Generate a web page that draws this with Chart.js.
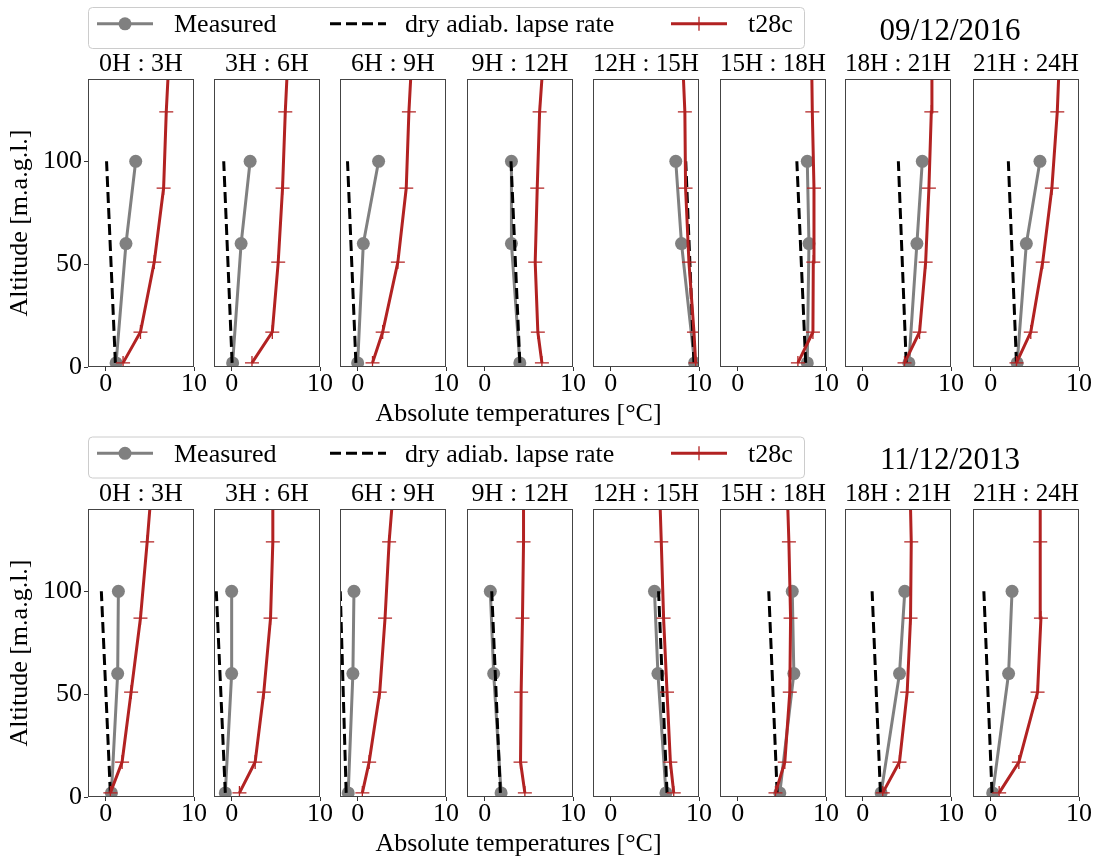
<!DOCTYPE html>
<html><head><meta charset="utf-8">
<script src="https://cdn.jsdelivr.net/npm/chart.js@4.4.1/dist/chart.umd.min.js"></script>
<style>
html,body{margin:0;padding:0;background:#fff;}
#fig{position:relative;width:1094px;height:859px;overflow:hidden;background:#fff;}
#fig canvas{position:absolute;}
#over{position:absolute;left:0;top:0;pointer-events:none;}
</style></head>
<body><div id="fig"></div>
<script>
// ---------- data ----------
const panelTitles = ['0H : 3H','3H : 6H','6H : 9H','9H : 12H','12H : 15H','15H : 18H','18H : 21H','21H : 24H'];
const dates = ['09/12/2016','11/12/2013'];
const seriesNames = ['Measured','dry adiab. lapse rate','t28c'];
const xLabel = 'Absolute temperatures [°C]';
const yLabel = 'Altitude [m.a.g.l.]';
const xTicks = [0, 10];
const yTicks = [0, 50, 100];

const measuredAlt = [2, 60, 100];
const dryAlt = [2, 100];
const t28cAlt = [2, 17, 51, 87, 124, 140];

// 09/12/2016
const measured_2016 = [[1.18,2.3,3.4],[0.11,1.07,2.09],[0.0,0.64,2.37],[3.98,3.03,3.03],[9.5,8.02,7.37],[7.88,8.07,7.88],[5.23,6.14,6.75],[3.0,4.04,5.58]];
const dry_2016 = [[1.1,0.1],[0.05,-0.9],[-0.2,-1.15],[3.98,2.98],[9.43,8.5],[7.7,6.7],[4.93,4.04],[2.92,2.0]];
const t28c_2016 = [[1.97,3.94,5.5,6.56,6.86,7.05],[2.3,4.6,5.27,5.76,6.07,6.25],[1.68,2.83,4.55,5.5,5.8,6.0],[6.48,6.02,5.72,5.95,6.22,6.48],[9.62,9.43,8.86,8.48,8.4,8.24],[6.82,8.52,8.56,8.64,8.45,8.4],[4.74,6.44,7.13,7.5,7.77,7.84],[2.92,4.54,5.89,6.93,7.54,7.69]];
// 11/12/2013
const measured_2013 = [[0.65,1.36,1.44],[-0.72,0.0,0.0],[-1.07,-0.54,-0.42],[1.86,1.02,0.64],[6.26,5.35,4.96],[4.77,6.36,6.18],[2.09,4.17,4.77],[0.23,2.03,2.42]];
const dry_2013 = [[0.53,-0.49],[-0.72,-1.74],[-1.3,-1.97],[1.78,0.8],[6.38,5.42],[4.47,3.52],[2.01,1.07],[0.15,-0.77]];
const t28c_2013 = [[0.53,1.86,2.88,3.94,4.7,5.0],[0.88,2.66,3.64,4.4,4.66,4.66],[0.53,1.3,2.5,3.1,3.56,3.86],[4.55,4.06,4.13,4.28,4.4,4.4],[7.14,6.76,6.38,5.99,5.73,5.61],[4.28,5.34,5.9,5.99,5.8,5.68],[2.27,4.17,5.04,5.42,5.5,5.42],[0.96,3.19,5.31,5.69,5.61,5.61]];

const measuredRows = [measured_2016, measured_2013];
const dryRows = [dry_2016, dry_2013];
const t28cRows = [t28c_2016, t28c_2013];

// ---------- style / layout ----------
const FONT = "'Liberation Serif','Times New Roman',serif";
const GRAY = '#808080', RED = '#B22222';
const boxLeft = [88, 214, 340, 467, 593, 720, 845, 973];
const boxW = 106, boxH = 288;
const rowBoxTop = [79, 509];
const legendTop = [7.5, 437];

const fig = document.getElementById('fig');

const framePlugin = {
  id: 'frame',
  afterDatasetsDraw(chart) {
    const {ctx, chartArea: a} = chart;
    ctx.save();
    ctx.strokeStyle = '#444';
    ctx.lineWidth = 1;
    ctx.strokeRect(a.left + 0.5, a.top + 0.5, a.right - a.left - 1, a.bottom - a.top - 1);
    ctx.restore();
  }
};

function pts(xs, alts) { return alts.map((a, k) => ({x: xs[k], y: a})); }

function makePanel(row, i) {
  const first = i === 0;
  const padLeft = first ? 0 : 30;
  const yW = first ? 88 : 0;
  const W = padLeft + yW + boxW + 20;
  const H = 26 + 2 + boxH + 45;
  const cv = document.createElement('canvas');
  cv.width = W; cv.height = H;
  cv.style.width = W + 'px'; cv.style.height = H + 'px';
  cv.style.left = (boxLeft[i] - padLeft - yW) + 'px';
  cv.style.top = (rowBoxTop[row] - 28) + 'px';
  fig.appendChild(cv);

  const tickFont = {family: FONT, size: 26, lineHeight: 1};
  new Chart(cv.getContext('2d'), {
    type: 'scatter',
    data: {
      datasets: [
        {label: seriesNames[2], data: pts(t28cRows[row][i], t28cAlt), showLine: true,
         borderColor: RED, backgroundColor: RED, borderWidth: 3, pointStyle: 'cross',
         pointRadius: t28cAlt.map((a, k) => k < t28cAlt.length - 1 ? 7 : 0),
         pointBorderColor: RED, pointBorderWidth: 1.3, order: 1, clip: 0, tension: 0},
        {label: seriesNames[1], data: pts(dryRows[row][i], dryAlt), showLine: true,
         borderColor: '#000', borderWidth: 3, borderDash: [11, 5], pointRadius: 0,
         order: 2, clip: 0, tension: 0},
        {label: seriesNames[0], data: pts(measuredRows[row][i], measuredAlt), showLine: true,
         borderColor: GRAY, backgroundColor: GRAY, borderWidth: 3, pointRadius: 6.5,
         pointBackgroundColor: GRAY, pointBorderColor: GRAY, pointBorderWidth: 0,
         order: 3, clip: 0, tension: 0}
      ]
    },
    options: {
      responsive: false, animation: false, events: [],
      layout: {padding: {left: padLeft, right: 20, top: 0, bottom: 0}},
      plugins: {
        legend: {display: false}, tooltip: {enabled: false},
        title: {display: true, text: panelTitles[i], fullSize: false, color: '#000',
                font: {family: FONT, size: 26, weight: 'normal', lineHeight: 1},
                padding: {top: 0, bottom: 2}}
      },
      scales: {
        x: {type: 'linear', min: -2, max: 10,
            afterBuildTicks: s => { s.ticks = xTicks.map(v => ({value: v})); },
            afterFit: s => { s.height = 45; },
            ticks: {font: tickFont, color: '#000', padding: 0, autoSkip: false, maxRotation: 0,
                    callback: v => String(v)},
            grid: {display: true, drawOnChartArea: false, drawTicks: true, tickLength: 4, color: '#333'},
            border: {display: false}},
        y: {type: 'linear', min: 0, max: 140, display: first,
            afterBuildTicks: s => { s.ticks = yTicks.map(v => ({value: v})); },
            afterFit: s => { s.width = yW; },
            ticks: {font: tickFont, color: '#000', padding: 2, autoSkip: false,
                    callback: v => String(v)},
            grid: {display: true, drawOnChartArea: false, drawTicks: true, tickLength: 4, color: '#333'},
            border: {display: false},
            title: {display: true, text: yLabel, color: '#000',
                    font: {family: FONT, size: 26, lineHeight: 1}, padding: {top: 7.3, bottom: 0}}}
      }
    },
    plugins: [framePlugin]
  });
}

for (let r = 0; r < 2; r++) for (let i = 0; i < 8; i++) makePanel(r, i);

// ---------- legends, dates, x labels (text overlay) ----------
let s = `<svg id="over" width="1094" height="859" xmlns="http://www.w3.org/2000/svg" font-family="${FONT.replace(/'/g,'&quot;')}">`;
for (let r = 0; r < 2; r++) {
  const y0 = legendTop[r], ly = y0 + 16.3, tb = y0 + 24.5;
  s += `<rect x="88.5" y="${y0}" width="716" height="41" rx="4" ry="4" fill="#fff" stroke="#cccccc" stroke-width="1"/>`;
  s += `<line x1="97" y1="${ly}" x2="153" y2="${ly}" stroke="${GRAY}" stroke-width="3"/>`;
  s += `<circle cx="125" cy="${ly}" r="6.5" fill="${GRAY}"/>`;
  s += `<text x="174" y="${tb}" font-size="26" fill="#000">${seriesNames[0]}</text>`;
  s += `<line x1="330" y1="${ly}" x2="386" y2="${ly}" stroke="#000" stroke-width="3" stroke-dasharray="11 5"/>`;
  s += `<text x="405" y="${tb}" font-size="26" fill="#000">${seriesNames[1]}</text>`;
  s += `<line x1="671" y1="${ly}" x2="727" y2="${ly}" stroke="${RED}" stroke-width="3"/>`;
  s += `<line x1="699" y1="${ly-7}" x2="699" y2="${ly+7}" stroke="${RED}" stroke-width="1.3"/>`;
  s += `<line x1="692" y1="${ly}" x2="706" y2="${ly}" stroke="${RED}" stroke-width="1.3"/>`;
  s += `<text x="748" y="${tb}" font-size="26" fill="#000">${seriesNames[2]}</text>`;
  s += `<text x="950" y="${y0 + 32}" font-size="31" text-anchor="middle" fill="#000">${dates[r]}</text>`;
  s += `<text x="518.5" y="${[421, 850.5][r]}" font-size="26" text-anchor="middle" fill="#000">${xLabel}</text>`;
}
s += `</svg>`;
fig.insertAdjacentHTML('beforeend', s);
</script>
</body></html>
